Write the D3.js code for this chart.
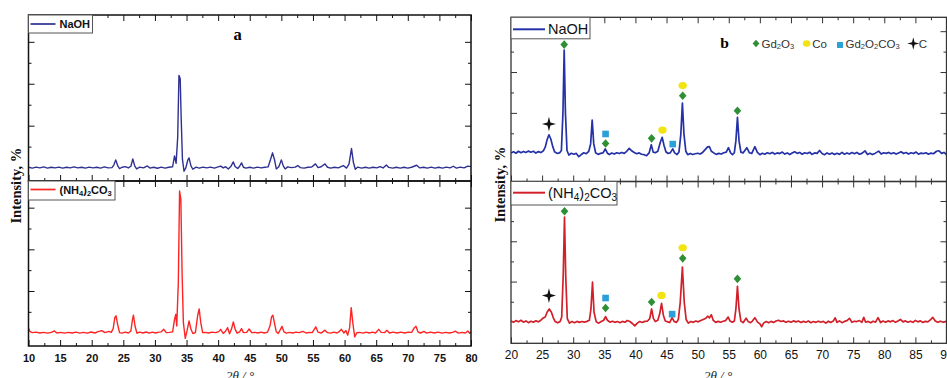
<!DOCTYPE html>
<html>
<head>
<meta charset="utf-8">
<script src="https://cdn.jsdelivr.net/npm/d3@7"></script>
<style>
  body { margin: 0; background: #fff; }
  svg { display: block; }
</style>
</head>
<body>
<div id="chart"></div>
<script>
// ---- data (2θ in degrees, intensity in a.u., baseline ~0) ----
const naohA = [
  [10,0.2],[10.6,-0.3],[11.2,0.3],[11.8,-0.2],[12.4,0.4],[13,-0.3],[13.6,0.2],[14.2,-0.2],[14.8,0.3],[15.4,-0.3],
  [16,0.2],[16.6,-0.2],[17.2,0.4],[17.8,-0.2],[18.4,0.2],[19,-0.3],[19.6,0.3],[20.2,-0.2],[20.8,0.2],[21.4,-0.3],
  [22,0.4],[22.6,-0.2],[23.2,0],[23.5,1.5],[23.8,4.6],[24.1,1.2],[24.4,-0.6],[24.8,0.2],[25.3,0.6],[25.8,-0.2],
  [26.2,0.8],[26.5,5.2],[26.8,1],[27.1,-0.8],[27.6,0.3],[28.2,-0.2],[28.8,1],[29.2,-0.3],[29.8,0.2],[30.4,-0.4],
  [31,0.3],[31.6,-0.3],[32.2,0.2],[32.8,0.5],[33.1,7],[33.35,2.5],[33.6,18],[33.8,55],[34,53],[34.15,30],
  [34.35,5],[34.6,-2.2],[34.9,0],[35.2,4.5],[35.4,5.8],[35.7,1],[36,-1],[36.5,0.3],[37,-0.3],[37.6,0.3],
  [38.2,-0.2],[38.8,0.3],[39.4,-0.3],[40,0.4],[40.4,0.9],[40.8,-0.2],[41.2,0.5],[41.6,-0.8],[42,0.6],[42.4,3.4],
  [42.7,0.5],[43.1,-0.5],[43.4,0.8],[43.7,2.8],[44,0.2],[44.4,-0.3],[45,0.2],[45.6,-0.3],[46.2,0.3],[46.8,-0.2],
  [47.4,0.2],[47.9,0.4],[48.3,5],[48.6,8.8],[48.9,5],[49.2,-0.8],[49.6,0.5],[50,4.6],[50.3,1],[50.6,-0.8],
  [51,0.4],[51.6,0],[52.2,0.3],[52.6,1.2],[53,0],[53.6,-0.3],[54.2,0.2],[54.8,0.3],[55.4,2.2],[55.8,0],
  [56.3,0.5],[56.9,2.2],[57.3,0.2],[57.8,-0.3],[58.4,0.2],[59,-0.2],[59.8,1.2],[60.3,-0.3],[60.7,2],[61.1,11.4],
  [61.4,3],[61.7,-1],[62.1,0.3],[62.7,-0.3],[63.3,0.2],[63.9,-0.3],[64.5,0.2],[65.1,-0.2],[65.6,0.6],[66.1,-0.2],
  [66.6,1.6],[67,0.1],[67.6,-0.3],[68.2,0.2],[68.8,-0.3],[69.4,0.2],[70,-0.3],[70.6,0.2],[71.4,1.4],[71.9,-0.2],
  [72.5,0.2],[73.1,-0.3],[73.7,0.3],[74.3,-0.3],[74.9,0.2],[75.5,-0.3],[76.1,0.3],[76.7,-0.2],[77.2,0.8],[77.7,-0.3],
  [78.3,0.3],[78.9,-0.2],[79.5,0.9],[80,0.6]
];

const nh4A = [
  [10,2.6],[10.2,0.8],[10.6,0],[11.2,0.3],[11.8,-0.2],[12.4,0.2],[13,-0.3],[13.6,0.2],[14.1,1],[14.5,-0.2],
  [15.1,0.2],[15.7,-0.3],[16.3,0.2],[16.9,-0.2],[17.5,0.3],[18.1,-0.3],[18.7,0.2],[19.3,-0.3],[19.9,0.4],[20.5,-0.2],
  [21,0.6],[21.6,1.2],[22.1,0],[22.7,0.8],[23.1,0.2],[23.4,2.5],[23.65,9],[23.85,10.1],[24.1,5],[24.4,0],
  [24.8,-0.3],[25.3,0.3],[25.8,-0.2],[26.2,1],[26.45,8],[26.6,10.5],[26.85,4],[27.15,-0.3],[27.6,0.3],[28.1,-0.2],
  [28.6,0.4],[29.1,-0.3],[29.6,0.3],[30.1,-0.2],[30.6,0.3],[31,0.5],[31.4,2],[31.8,0],[32.3,0.2],[32.8,0.5],
  [33.1,8],[33.3,11],[33.45,4],[33.7,30],[33.9,85],[34.1,80],[34.3,35],[34.5,6],[34.8,-3.4],[35.1,1.5],
  [35.4,7],[35.7,2],[36,-0.5],[36.4,0],[36.75,10],[37,14.2],[37.25,6],[37.55,0],[38,0.2],[38.5,-0.2],
  [39,0.3],[39.6,0],[40.1,0.6],[40.4,2],[40.8,-0.5],[41.2,1],[41.5,3],[41.8,-0.6],[42.1,2],[42.4,6.4],
  [42.7,2],[43,-0.3],[43.4,0.5],[43.7,2.4],[44,0],[44.5,0.2],[44.9,2.2],[45.3,0],[45.8,0.2],[46.3,-0.2],
  [46.8,0.3],[47.3,-0.2],[47.8,0.3],[48.2,4],[48.45,9.5],[48.65,10.5],[48.9,6],[49.2,0.5],[49.5,-0.5],[49.8,1.5],
  [50.1,3.8],[50.4,0.5],[50.8,-0.3],[51.3,0.2],[51.8,-0.2],[52.3,0.3],[52.8,0],[53.4,0.8],[53.9,-0.2],[54.4,0.2],
  [54.9,0],[55.2,2],[55.45,3.5],[55.8,0.3],[56.3,-0.3],[56.9,1.5],[57.3,0],[57.8,-0.3],[58.3,0.3],[58.8,-0.2],
  [59.2,0.8],[59.5,2],[59.9,-0.2],[60.2,1.3],[60.5,-1.5],[60.8,3],[61.05,15],[61.3,6],[61.6,-2.5],[61.95,0],
  [62.4,0.2],[62.9,-0.3],[63.4,0.3],[63.9,-0.2],[64.4,0.3],[64.9,-0.2],[65.4,2],[65.8,0.2],[66.3,0],[66.7,1.5],
  [67.1,-0.2],[67.7,0.3],[68.3,-0.2],[68.9,0.3],[69.5,-0.2],[70.1,0.3],[70.6,0.2],[71.05,3],[71.3,3.8],[71.6,0.5],
  [72,-0.2],[72.55,0.8],[73,-0.3],[73.6,0.3],[74.2,-0.2],[74.8,0.3],[75.4,-0.3],[76,0.2],[76.6,-0.2],[77.2,0.3],
  [77.5,0.9],[78,-0.3],[78.6,0.2],[79.1,-0.2],[79.5,1],[79.8,-0.3],[80,0.3]
];

const naohB = [
  [20,0.5],[20.4,1.2],[20.8,0.3],[21.2,1.5],[21.6,0.6],[22,1.4],[22.4,0.8],[22.8,1.6],[23.2,0.9],[23.6,1.5],
  [24,0.4],[24.4,1.3],[24.8,0.7],[25.2,1.8],[25.5,4],[25.8,8.5],[26.1,11.6],[26.4,9],[26.7,4.5],[27,1.2],
  [27.4,0.2],[27.8,0.5],[28.1,2],[28.35,25],[28.55,63.5],[28.75,25],[29,2],[29.3,-0.8],[29.7,0.3],[30.1,-0.3],
  [30.5,0.2],[30.9,-1.8],[31.3,-0.5],[31.7,0.6],[32.1,0],[32.5,1.5],[32.8,6],[33.05,20.6],[33.3,6],[33.6,0.6],
  [34,-0.4],[34.4,0.2],[34.8,0.5],[35.15,2.9],[35.5,0.3],[35.8,-0.5],[36.2,0.4],[36.6,-0.2],[37,0.6],[37.4,0.1],
  [37.8,0.8],[38.2,0.2],[38.6,1.5],[39,3.3],[39.4,1.8],[39.8,0.8],[40.2,0],[40.6,0.5],[41,-0.3],[41.4,-0.6],
  [41.8,-1.2],[42.2,0.5],[42.55,5.5],[42.85,1],[43.2,0.6],[43.6,1.5],[44,7],[44.3,10],[44.6,5],[44.9,1.2],
  [45.2,0.2],[45.6,0.5],[46,3],[46.3,0.5],[46.7,-0.5],[47,1],[47.3,12],[47.55,31],[47.8,12],[48.1,1.5],
  [48.4,-0.6],[48.8,0.2],[49.2,-0.5],[49.6,0],[50,0.3],[50.4,-0.2],[50.8,0.8],[51.2,2.5],[51.6,4.2],[51.9,4.3],
  [52.2,1.5],[52.6,0.5],[53,-0.4],[53.4,0.2],[53.8,-0.2],[54.2,0.6],[54.6,1],[54.95,3.7],[55.3,0.5],[55.6,-0.5],
  [55.9,0.6],[56.15,8],[56.4,22.3],[56.65,8],[56.95,1],[57.3,0.5],[57.9,3.7],[58.3,0.6],[58.7,0.2],[59.2,4.3],
  [59.6,0.8],[60,-0.6],[60.4,0.3],[60.8,-0.3],[61.2,0.6],[61.6,0],[62,0.8],[62.4,-0.2],[62.8,0.5],[63.2,0.1],
  [63.6,1],[64,-0.2],[64.4,0.5],[64.8,-0.5],[65.2,0.4],[65.6,1.2],[66,0.2],[66.4,0.8],[66.8,-0.3],[67.2,0.6],
  [67.6,0.1],[68,0.9],[68.4,-0.4],[68.8,0.5],[69.2,0.2],[69.6,2],[70,0.1],[70.4,-0.6],[70.8,0.5],[71.2,-0.3],
  [71.6,0.4],[72,-0.5],[72.4,0.3],[72.8,-0.4],[73.2,0.8],[73.6,-0.3],[74,0.5],[74.4,-0.2],[74.8,0.7],[75.2,0],
  [75.6,0.8],[76,-0.3],[76.4,0.2],[76.9,1.8],[77.3,-0.5],[77.7,0.3],[78.1,-0.5],[78.5,0.2],[79.1,1.6],[79.5,-0.2],
  [79.9,0.6],[80.3,0.2],[80.7,0.8],[81.1,0],[81.5,0.6],[81.9,-0.2],[82.3,0.5],[82.7,1.2],[83.1,0.1],[83.5,0.7],
  [83.9,-0.2],[84.3,0.6],[84.7,0.1],[85.1,1],[85.5,-0.3],[85.9,0.4],[86.3,0.1],[86.7,0.6],[87.1,-0.3],[87.5,0.4],
  [87.9,0],[88.4,1.5],[88.8,1.8],[89.2,0.2],[89.6,0.8],[90,-0.5]
];

const nh4B = [
  [20,0.5],[20.4,-0.3],[20.8,0.8],[21.2,0],[21.6,1],[22,-0.2],[22.4,0.6],[22.8,-0.5],[23.2,0.4],[23.6,-0.2],
  [24,0.7],[24.4,0],[24.8,1],[25.1,2.2],[25.5,3],[25.8,6],[26.15,8],[26.5,6],[26.8,2.5],[27.1,0.2],
  [27.5,-0.6],[27.9,0.2],[28.15,3],[28.4,30],[28.6,65],[28.8,28],[29.05,2],[29.4,-0.8],[29.8,0.2],[30.2,-0.5],
  [30.6,0.3],[31,-0.3],[31.4,0.2],[31.8,-0.2],[32.2,0.3],[32.6,1],[32.85,8],[33.1,24.6],[33.35,6],[33.7,0],
  [34.1,-0.8],[34.5,0.2],[34.9,1],[35.2,3.3],[35.5,1],[35.9,-0.2],[36.3,0.4],[36.7,-0.3],[37.1,0.2],[37.5,-0.5],
  [37.9,0.3],[38.3,-0.2],[38.7,0.8],[39.1,0.2],[39.5,-1],[39.9,-2.5],[40.3,-0.8],[40.7,0.2],[41.1,-0.4],[41.5,0.3],
  [41.9,0.4],[42.3,2],[42.6,8],[42.9,2],[43.2,0.2],[43.6,1],[43.9,5],[44.2,11.5],[44.5,4],[44.8,0.5],
  [45.2,0],[45.5,-0.4],[45.9,2.7],[46.2,0.3],[46.6,-0.3],[46.9,1.5],[47.2,12],[47.55,34],[47.85,12],[48.15,1.5],
  [48.5,-0.8],[48.9,0.2],[49.3,-0.3],[49.7,0.5],[50.1,0],[50.5,0.8],[50.9,1.5],[51.3,2.2],[51.6,3.5],[51.9,2.5],
  [52.2,4.4],[52.5,1],[52.9,-0.3],[53.3,0.3],[53.7,-0.2],[54.1,0.4],[54.5,0.8],[54.9,3],[55.2,0.6],[55.6,-0.2],
  [55.9,0.5],[56.15,8],[56.4,22],[56.65,8],[56.95,0.5],[57.3,-0.5],[57.8,2.3],[58.1,0.3],[58.5,-0.5],[58.8,0.5],
  [59.2,2.6],[59.6,0],[60,-1.2],[60.3,-3],[60.6,-0.8],[61,0.2],[61.4,-0.6],[61.8,0.3],[62.2,-0.4],[62.6,0.5],
  [63,1],[63.4,0.2],[63.8,0.6],[64.2,-0.3],[64.6,0.4],[65,-0.2],[65.4,0.6],[65.8,0],[66.2,0.5],[66.6,-0.4],
  [67,0.3],[67.4,-0.2],[67.8,0.5],[68.2,-0.5],[68.6,0.2],[69,-0.3],[69.4,0.4],[69.8,-0.2],[70.2,0.3],[70.6,-0.8],
  [71,0.4],[71.4,-0.4],[71.8,0.5],[72.1,2.5],[72.4,-0.3],[72.8,0.6],[73.2,-0.5],[73.6,0.3],[74,0.8],[74.4,2.2],
  [74.8,-0.3],[75.2,0.4],[75.6,0.2],[76,0.8],[76.4,-0.3],[76.7,2.8],[77,-0.2],[77.4,0.3],[77.8,-0.5],[78.2,0.4],
  [78.6,-0.2],[79,2.6],[79.4,-0.4],[79.8,0.5],[80.2,-0.3],[80.6,0.6],[81,0],[81.4,0.8],[81.8,-0.3],[82.2,0.5],
  [82.6,1.5],[83,0],[83.4,0.6],[83.8,-0.2],[84.2,0.4],[84.6,-0.3],[85,0.9],[85.4,0],[85.8,0.6],[86.2,-0.4],
  [86.6,0.3],[87,0],[87.4,1.2],[87.8,2.8],[88.2,0.5],[88.6,-0.3],[89,0.4],[89.5,-0.2],[90,0.3]
];

// phase markers [phase, 2θ, intensity]
const markersNaohB = [
  ['C',26.1,18.2],['Gd2O3',28.55,66.8],['Gd2O2CO3',35.2,12.1],['Gd2O3',35.2,6.3],['Gd2O3',42.6,9.4],
  ['Co',44.35,14.5],['Gd2O2CO3',46.0,5.9],['Co',47.6,41.7],['Gd2O3',47.6,35.5],['Gd2O3',56.4,26.3]
];
const markersNh4B = [
  ['C',26.1,16.3],['Gd2O3',28.6,68.6],['Gd2O2CO3',35.2,14.8],['Gd2O3',35.2,8.6],['Gd2O3',42.6,12.3],
  ['Co',44.2,16.4],['Gd2O2CO3',45.9,4.8],['Co',47.6,46],['Gd2O3',47.6,39.4],['Gd2O3',56.4,26.7]
];

const xMajorA = [10,15,20,25,30,35,40,45,50,55,60,65,70,75,80];
const xMajorB = [20,25,30,35,40,45,50,55,60,65,70,75,80,85,90];
const yMajor = [25,50,75];
const yMinor = [12.5,37.5,62.5];

// ---- drawing ----
const W = 947, H = 378;
const svg = d3.select('#chart').append('svg').attr('width', W).attr('height', H);

const phaseStyle = {
  Gd2O3: { color: '#2f8f35' },
  Co: { color: '#f2e313' },
  Gd2O2CO3: { color: '#2a9fd8' },
  C: { color: '#111' }
};

// four-pointed star for the carbon marker
function starPath(r) {
  let p = '';
  for (let i = 0; i < 8; i++) {
    const a = Math.PI / 4 * i - Math.PI / 2;
    const rr = i % 2 ? r * 0.3 : r;
    p += (i ? 'L' : 'M') + (rr * Math.cos(a)).toFixed(2) + ',' + (rr * Math.sin(a) * 1.05).toFixed(2);
  }
  return p + 'Z';
}

function drawMarker(g, phase, cx, cy, s) {
  const c = phaseStyle[phase].color;
  if (phase === 'Gd2O3') {
    g.append('path').attr('d', `M${cx},${cy - 4.3 * s}L${cx + 3.8 * s},${cy}L${cx},${cy + 4.3 * s}L${cx - 3.8 * s},${cy}Z`).attr('fill', c);
  } else if (phase === 'Co') {
    g.append('ellipse').attr('cx', cx).attr('cy', cy).attr('rx', 4.2 * s).attr('ry', 3.6 * s).attr('fill', c);
  } else if (phase === 'Gd2O2CO3') {
    g.append('rect').attr('x', cx - 3.3 * s).attr('y', cy - 3.3 * s).attr('width', 6.6 * s).attr('height', 6.6 * s).attr('fill', c);
  } else {
    g.append('path').attr('d', starPath(7 * s)).attr('transform', `translate(${cx},${cy})`).attr('fill', c);
  }
}

function subText(sel, parts, size, subSize, dy) {
  parts.forEach(([t, sub]) => {
    const ts = sel.append('tspan').text(t);
    if (sub) ts.attr('font-size', subSize).attr('dy', dy);
    else ts.attr('font-size', size).attr('dy', sel.attr('data-sub') === '1' ? -dy : 0);
    sel.attr('data-sub', sub ? '1' : '0');
  });
}

function panel(o) {
  const x = d3.scaleLinear().domain(o.xDomain).range(o.xRange);
  const y = d3.scaleLinear().domain(o.yDomain).range(o.yRange);
  const g = svg.append('g');
  const top = o.yRange[1], bot = o.yRange[0];
  const xMinor = o.xMajor.slice(0, -1).map(d => d + 2.5);

  // trace
  const line = d3.line().x(d => x(d[0])).y(d => y(d[1]));
  g.append('path').datum(o.data).attr('fill', 'none').attr('stroke', o.color)
    .attr('stroke-width', o.lw).attr('stroke-linejoin', 'round').attr('d', line);

  // ticks (all inward)
  const tk = (axis, tr) => g.append('g').attr('transform', tr)
    .call(axis.tickFormat('').tickSizeOuter(0))
    .call(s => s.select('.domain').remove())
    .call(s => s.selectAll('line').attr('stroke', o.frame).attr('stroke-width', 1));
  tk(d3.axisTop(x).tickValues(o.xMajor).tickSizeInner(-6), `translate(0,${top})`);
  tk(d3.axisTop(x).tickValues(xMinor).tickSizeInner(-3), `translate(0,${top})`);
  tk(d3.axisBottom(x).tickValues(o.xMajor).tickSizeInner(-6), `translate(0,${bot})`);
  tk(d3.axisBottom(x).tickValues(xMinor).tickSizeInner(-3), `translate(0,${bot})`);
  tk(d3.axisLeft(y).tickValues(yMajor).tickSizeInner(-6), `translate(${o.xRange[0]},0)`);
  tk(d3.axisLeft(y).tickValues(yMinor).tickSizeInner(-3), `translate(${o.xRange[0]},0)`);
  tk(d3.axisRight(y).tickValues(yMajor).tickSizeInner(-6), `translate(${o.xRange[1]},0)`);
  tk(d3.axisRight(y).tickValues(yMinor).tickSizeInner(-3), `translate(${o.xRange[1]},0)`);

  // frame
  g.append('rect').attr('x', o.xRange[0]).attr('y', top)
    .attr('width', o.xRange[1] - o.xRange[0]).attr('height', bot - top)
    .attr('fill', 'none').attr('stroke', o.frame).attr('stroke-width', o.fw);

  // tick labels
  if (o.labels) {
    g.append('g').attr('transform', `translate(0,${bot})`)
      .call(d3.axisBottom(x).tickValues(o.xMajor).tickSize(0).tickPadding(o.labelPad))
      .call(s => s.select('.domain').remove())
      .call(s => s.selectAll('text').attr('font-family', 'Liberation Sans, Arial, sans-serif')
        .attr('font-size', o.labelSize).attr('font-weight', o.labelWeight).attr('fill', '#111'));
  }

  // legend box
  const L = o.legend;
  g.append('rect').attr('x', o.xRange[0]).attr('y', top).attr('width', L.w).attr('height', L.h)
    .attr('fill', '#fff').attr('stroke', '#555').attr('stroke-width', 1);
  g.append('line').attr('x1', o.xRange[0] + 2).attr('x2', o.xRange[0] + L.lineLen)
    .attr('y1', top + L.ly).attr('y2', top + L.ly).attr('stroke', o.color).attr('stroke-width', o.lw + 0.3);
  const t = g.append('text').attr('x', o.xRange[0] + L.tx).attr('y', top + L.ty)
    .attr('font-family', 'Liberation Sans, Arial, sans-serif').attr('font-weight', L.weight)
    .attr('font-size', L.size).attr('fill', '#111');
  subText(t, L.parts, L.size, L.subSize, L.subDy);

  // phase markers
  if (o.markers) o.markers.forEach(([p, tt, v]) => drawMarker(g, p, x(tt), y(v), 1));
  return { x, y };
}

const legNaohA = { w: 64, h: 18, ly: 9, lineLen: 27, tx: 31, ty: 13, size: 11, weight: 'bold', parts: [['NaOH']] };
const legNh4A = { w: 86.5, h: 19, ly: 8.5, lineLen: 27, tx: 31, ty: 12.5, size: 11, subSize: 7.5, subDy: 2, weight: 'bold',
  parts: [['(NH'], ['4', 1], [')'], ['2', 1], ['CO'], ['3', 1]] };
const legNaohB = { w: 79, h: 21.5, ly: 12, lineLen: 34, tx: 37, ty: 17, size: 14.5, weight: 'normal', parts: [['NaOH']] };
const legNh4B = { w: 106, h: 23.5, ly: 11.2, lineLen: 34, tx: 37, ty: 16.8, size: 14.5, subSize: 10, subDy: 3, weight: 'normal',
  parts: [['(NH'], ['4', 1], [')'], ['2', 1], ['CO'], ['3', 1]] };

panel({ xDomain: [10, 80], xRange: [28.5, 471], yDomain: [-8, 91], yRange: [181, 15], xMajor: xMajorA,
  data: naohA, color: '#2e3192', lw: 1.4, frame: '#111', fw: 1.5, legend: legNaohA });
panel({ xDomain: [10, 80], xRange: [28.5, 471], yDomain: [-8, 91], yRange: [346, 181], xMajor: xMajorA,
  data: nh4A, color: '#ff2424', lw: 1.4, frame: '#111', fw: 1.5, legend: legNh4A,
  labels: true, labelPad: 8.5, labelSize: 11, labelWeight: 'bold' });
panel({ xDomain: [20, 90], xRange: [511, 946.5], yDomain: [-17, 83.5], yRange: [181.5, 17.3], xMajor: xMajorB,
  data: naohB, color: '#2531a6', lw: 1.7, frame: '#333', fw: 1.3, legend: legNaohB, markers: markersNaohB });
panel({ xDomain: [20, 90], xRange: [511, 946.5], yDomain: [-13.3, 87.1], yRange: [343.3, 181.5], xMajor: xMajorB,
  data: nh4B, color: '#d2202a', lw: 1.7, frame: '#333', fw: 1.3, legend: legNh4B, markers: markersNh4B,
  labels: true, labelPad: 7.5, labelSize: 12, labelWeight: 'normal' });

// panel letters
svg.append('text').attr('x', 237.5).attr('y', 39.5).attr('text-anchor', 'middle')
  .attr('font-family', 'Liberation Serif, Times New Roman, serif').attr('font-weight', 'bold').attr('font-size', 16.5).text('a');
svg.append('text').attr('x', 724.5).attr('y', 48.3).attr('text-anchor', 'middle')
  .attr('font-family', 'Liberation Serif, Times New Roman, serif').attr('font-weight', 'bold').attr('font-size', 15.5).text('b');

// phase legend
const phaseLegend = [
  ['Gd2O3', 756, [['Gd'], ['2', 1], ['O'], ['3', 1]]],
  ['Co', 806.7, [['Co']]],
  ['Gd2O2CO3', 840, [['Gd'], ['2', 1], ['O'], ['2', 1], ['CO'], ['3', 1]]],
  ['C', 913.3, [['C']]]
];
const pl = svg.append('g');
phaseLegend.forEach(([p, lx, parts]) => {
  drawMarker(pl, p, lx, p === 'Gd2O2CO3' ? 45 : 43.5, p === 'C' ? 0.85 : 0.9);
  const t = pl.append('text').attr('x', lx + 5.5).attr('y', 48)
    .attr('font-family', 'Liberation Sans, Arial, sans-serif').attr('font-size', 11.5).attr('fill', '#333');
  subText(t, parts, 11.5, 7.5, 1);
});

// axis titles
[[20.7, 185.7], [505, 184.7]].forEach(([tx, ty]) => {
  svg.append('text').attr('transform', `translate(${tx},${ty}) rotate(-90)`).attr('text-anchor', 'middle')
    .attr('font-family', 'Liberation Serif, Times New Roman, serif').attr('font-weight', 'bold')
    .attr('font-size', 14.5).attr('fill', '#111').text('Intensity, %');
});
// the reference crops these titles at the bottom edge
[[240, 380], [718, 380]].forEach(([tx, ty]) => {
  svg.append('text').attr('x', tx).attr('y', ty).attr('text-anchor', 'middle')
    .attr('font-family', 'Liberation Serif, Times New Roman, serif').attr('font-style', 'italic')
    .attr('font-size', 13).attr('fill', '#222').text('2θ / °');
});
</script>
</body>
</html>
